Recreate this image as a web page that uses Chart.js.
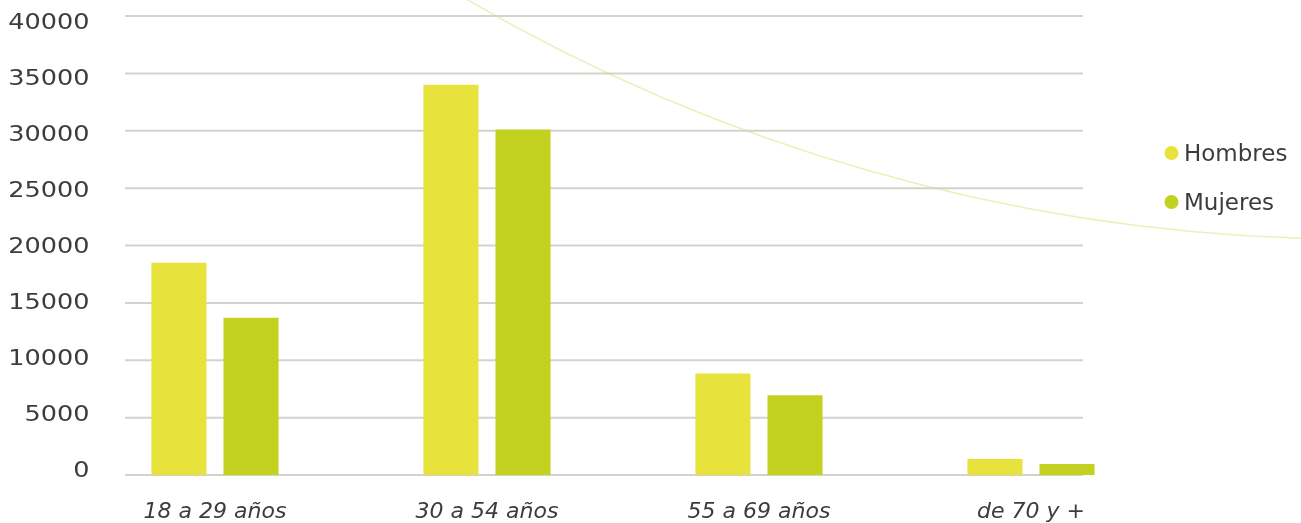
<!DOCTYPE html>
<html lang="es">
<head>
<meta charset="utf-8">
<title>Personas por tramo de edad y sexo</title>
<script src="https://cdn.jsdelivr.net/npm/chart.js@4.4.1/dist/chart.umd.min.js"></script>
<style>
  html, body { margin:0; padding:0; background:#fff; }
  #wrap { width:1301px; height:523px; }
</style>
</head>
<body>
<div id="wrap"><canvas id="edadChart" width="1301" height="523"></canvas></div>
<script>
// Data
const categorias = ['18 a 29 años', '30 a 54 años', '55 a 69 años', 'de 70 y +'];
const hombres = [18500, 34000, 8850, 1400];
const mujeres = [13700, 30100, 6950, 950];
const yTicks = [0, 5000, 10000, 15000, 20000, 25000, 30000, 35000, 40000];

const textColor = '#3c3c3b';
const gridColor = '#d3d3cb';
const fontFamily = "'DejaVu Sans', sans-serif";

// grid + y labels by hand: the grid is narrower than the bar area in the original
const gridPlugin = {
  id: 'gridPlugin',
  beforeDatasetsDraw(chart){
    const { ctx, scales:{ y } } = chart;
    ctx.save();
    // decorative arc in the background
    ctx.strokeStyle = '#ecefb9'; ctx.lineWidth = 1.5;
    ctx.beginPath(); ctx.arc(1354.5, -1525.9, 1764.7, 1.5, 2.2); ctx.stroke();

    ctx.strokeStyle = gridColor; ctx.lineWidth = 2;
    yTicks.forEach(v => {
      const py = y.getPixelForValue(v);
      ctx.beginPath(); ctx.moveTo(125, py); ctx.lineTo(1083, py); ctx.stroke();
    });

    // wide digits, like the original typeface
    ctx.fillStyle = textColor;
    ctx.font = '22px ' + fontFamily;
    ctx.textAlign = 'right'; ctx.textBaseline = 'alphabetic';
    yTicks.forEach(v => {
      const py = y.getPixelForValue(v) + 2 + 10.6 * v / 40000;
      ctx.save();
      ctx.translate(89.5, py); ctx.scale(1.16, 1);
      ctx.fillText(String(v), 0, 0);
      ctx.restore();
    });
    ctx.restore();
  }
};

const legendPlugin = {
  id: 'legendPlugin',
  afterDraw(chart){
    const { ctx } = chart;
    ctx.save();
    ctx.font = '23px ' + fontFamily;
    ctx.textAlign = 'left'; ctx.textBaseline = 'alphabetic';
    chart.data.datasets.forEach((ds, i) => {
      const cy = 153 + i * 49;
      ctx.fillStyle = ds.backgroundColor;
      ctx.beginPath(); ctx.arc(1171.5, cy, 7, 0, Math.PI * 2); ctx.fill();
      ctx.fillStyle = textColor;
      ctx.fillText(ds.label, 1184, cy + 8);
    });
    ctx.restore();
  }
};

new Chart(document.getElementById('edadChart'), {
  type: 'bar',
  data: {
    labels: categorias,
    datasets: [
      { label:'Hombres', data:hombres, backgroundColor:'#e8e23c', categoryPercentage:0.53, barPercentage:0.764 },
      { label:'Mujeres', data:mujeres, backgroundColor:'#c3d121', categoryPercentage:0.53, barPercentage:0.764 }
    ]
  },
  options: {
    responsive:false, animation:false, devicePixelRatio:1,
    layout:{ padding:{ left:79, right:134, top:16, bottom:0 } },
    plugins:{ legend:{ display:false }, tooltip:{ enabled:false } },
    scales:{
      x:{
        grid:{ display:false, drawTicks:false }, border:{ display:false },
        ticks:{ color:textColor, font:{ family:fontFamily, size:22, style:'italic' }, padding:24, maxRotation:0, autoSkip:false },
        afterFit(s){ s.height = 48; }
      },
      y:{ display:false, min:0, max:40000 }
    }
  },
  plugins:[gridPlugin, legendPlugin]
});
</script>
</body>
</html>
